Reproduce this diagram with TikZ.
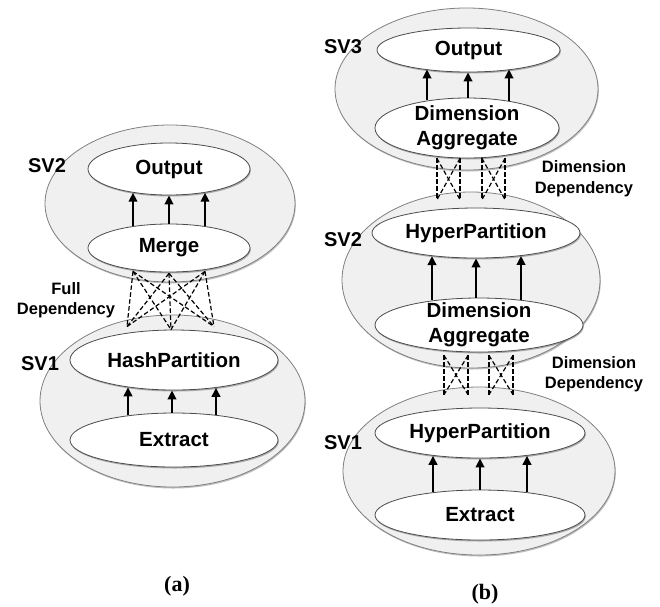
\documentclass[tikz,border=0pt]{standalone}
\usepackage{fontspec}
\setmainfont{Liberation Sans}
\newfontfamily\capfont{Liberation Serif}
\usetikzlibrary{shapes.geometric,shadows,arrows.meta,calc}

\tikzset{
  stage/.style={ellipse, draw=black!50, fill=black!6, line width=0.8pt, inner sep=0pt,
    drop shadow={shadow xshift=0.8pt, shadow yshift=-1.5pt, opacity=0.45, fill=black!55}},
  task/.style={ellipse, draw=black!70, fill=white, line width=0.8pt, inner sep=0pt,
    align=center, font=\bfseries\fontsize{20.5}{25}\selectfont,
    drop shadow={shadow xshift=0.8pt, shadow yshift=-1.5pt, opacity=0.5, fill=black!60}},
  twoline/.style={inner ysep=-6pt},
  flow/.style={line width=2.2pt, -{Triangle[length=9pt,width=8.5pt]}},
  dep/.style={line width=1.2pt, dash pattern=on 4.5pt off 2.5pt},
  svlabel/.style={font=\bfseries\fontsize{20}{24}\selectfont},
  deplabel/.style={font=\bfseries\fontsize{16.5}{20.5}\selectfont, align=center},
  caption/.style={font=\capfont\bfseries\fontsize{22}{26}\selectfont},
}

\begin{document}
\begin{tikzpicture}[x=1pt,y=-1pt]
\useasboundingbox (0,0) rectangle (660,606);

% ---------------- (a) ----------------
\node[stage, minimum width=250pt, minimum height=157pt] (sva2) at (170,203.5) {};
\node[stage, minimum width=265pt, minimum height=172pt] (sva1) at (172.5,401) {};

\node[task, minimum width=162pt, minimum height=52pt] (outa) at (169,169) {Output};
\node[task, minimum width=162pt, minimum height=48pt] (mergea) at (169,248) {Merge};
\node[task, minimum width=208pt, minimum height=60pt] (hasha) at (174,360) {HashPartition};
\node[task, minimum width=208pt, minimum height=54pt] (extra) at (174,440) {Extract};

% data flow inside each stage: tail offset / head offset / boundary corrections
\foreach \da/\db/\ya/\yb in {-36/-36/2.5/2.7, 0/0/0/0, 36/36/2.5/2.7}
  \draw[flow] ([xshift=\da pt, yshift=-\ya pt]mergea.north) -- ([xshift=\db pt, yshift=\yb pt]outa.south);
\foreach \da/\db/\ya/\yb in {-46/-46/2.8/3.1, -2/-2/0/0, 42/42/2.3/2.6}
  \draw[flow] ([xshift=\da pt, yshift=-\ya pt]extra.north) -- ([xshift=\db pt, yshift=\yb pt]hasha.south);

% full dependency between Merge and HashPartition
\coordinate (ma1) at ($(mergea.south)+(-36,-1)$);
\coordinate (ma2) at ($(mergea.south)+(0,1)$);
\coordinate (ma3) at ($(mergea.south)+(36,-1)$);
\coordinate (ha1) at ($(hasha.north)+(-47,-3)$);
\coordinate (ha2) at ($(hasha.north)+(-3,0)$);
\coordinate (ha3) at ($(hasha.north)+(40,-3)$);
\foreach \t in {ma1,ma2,ma3}
  \foreach \b in {ha1,ha2,ha3}
    \draw[dep] (\t) -- (\b);

\node[svlabel] (lsva2) at (47,166) {SV2};
\node[svlabel] (lsva1) at (40,364) {SV1};
\node[deplabel] (ldepa) at (66,300) {Full\\Dependency};
\node[caption] (capa) at (177,586) {(a)};

% ---------------- (b) ----------------
\node[stage, minimum width=263pt, minimum height=162pt] (svb3) at (466.5,89) {};
\node[stage, minimum width=258pt, minimum height=176pt] (svb2) at (471,280) {};
\node[stage, minimum width=272pt, minimum height=168pt] (svb1) at (479,471) {};

\node[task, minimum width=183pt, minimum height=44pt] (outb) at (468.5,50) {Output};
\node[task, twoline, minimum width=184pt, minimum height=60pt] (aggb3) at (467,128) {Dimension\\Aggregate};
\node[task, minimum width=208pt, minimum height=50pt] (hypb2) at (476,233) {HyperPartition};
\node[task, twoline, minimum width=208pt, minimum height=54pt] (aggb2) at (479,325) {Dimension\\Aggregate};
\node[task, minimum width=210pt, minimum height=50pt] (hypb1) at (480,433) {HyperPartition};
\node[task, minimum width=210pt, minimum height=50pt] (extrb) at (480,515) {Extract};

\foreach \da/\db/\ya/\yb in {-40/-41.5/2.8/3, 1/-0.5/0/0, 42/40.5/3/3}
  \draw[flow] ([xshift=\da pt, yshift=-\ya pt]aggb3.north) -- ([xshift=\db pt, yshift=\yb pt]outb.south);
\foreach \da/\db/\ya/\yb in {-47/-44/2.8/2.3, -3/0/0/0, 42/45/2.1/2.5}
  \draw[flow] ([xshift=\da pt, yshift=-\ya pt]aggb2.north) -- ([xshift=\db pt, yshift=\yb pt]hypb2.south);
\foreach \da/\db/\ya/\yb in {-47/-47/2.6/2.6, 0/0/0/0, 47/47/2.6/2.6}
  \draw[flow] ([xshift=\da pt, yshift=-\ya pt]extrb.north) -- ([xshift=\db pt, yshift=\yb pt]hypb1.south);

% dimension dependency: SV3 aggregate and SV2 partition
\foreach \i/\x in {1/-30,2/-7,3/15,4/38}
  \coordinate (ut\i) at ($(aggb3.south)+(\x,0)$);
\foreach \i/\x in {1/-39,2/-16,3/6,4/29}
  \coordinate (ub\i) at ($(hypb2.north)+(\x,-8)$);
\foreach \p/\q in {1/2,3/4}{
  \draw[dep] (ut\p) -- (ub\p);
  \draw[dep] (ut\q) -- (ub\q);
  \draw[dep] (ut\p) -- (ub\q);
  \draw[dep] (ut\q) -- (ub\p);
}

% dimension dependency: SV2 aggregate and SV1 partition
\foreach \i/\x in {1/-35,2/-11,3/10,4/34}
  \coordinate (lt\i) at ($(aggb2.south)+(\x,3)$);
\foreach \i/\x in {1/-36,2/-12,3/9,4/33}
  \coordinate (lb\i) at ($(hypb1.north)+(\x,-13)$);
\foreach \p/\q in {1/2,3/4}{
  \draw[dep] (lt\p) -- (lb\p);
  \draw[dep] (lt\q) -- (lb\q);
  \draw[dep] (lt\p) -- (lb\q);
  \draw[dep] (lt\q) -- (lb\p);
}

\node[svlabel] (lsvb3) at (343,47) {SV3};
\node[svlabel] (lsvb2) at (343,240) {SV2};
\node[svlabel] (lsvb1) at (343,443) {SV1};
\node[deplabel] (ldepb1) at (584,178.5) {Dimension\\Dependency};
\node[deplabel] (ldepb2) at (594,374) {Dimension\\Dependency};
\node[caption] (capb) at (485,594) {(b)};
\end{tikzpicture}
\end{document}
